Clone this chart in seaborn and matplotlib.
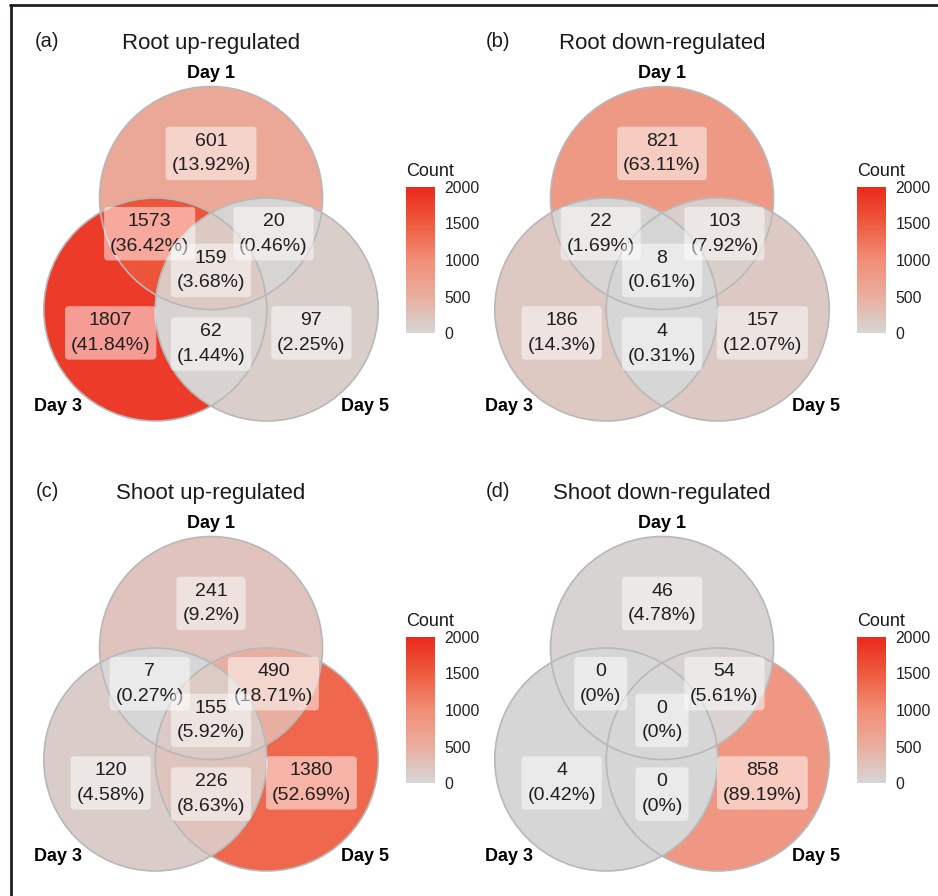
import numpy as np
import seaborn as sns
import matplotlib.pyplot as plt
from matplotlib.patches import Circle, Polygon
from matplotlib.lines import Line2D
from matplotlib.colors import Normalize
from matplotlib.cm import ScalarMappable

sns.set_theme(style='white')
plt.rcParams['font.family'] = ['Liberation Sans', 'DejaVu Sans']

# data
set_names = ['Day 1', 'Day 3', 'Day 5']
regions = [(0,), (0, 1), (0, 2), (0, 1, 2), (1,), (1, 2), (2,)]
panel_tags = ['(a)', '(b)', '(c)', '(d)']
titles = ['Root up-regulated', 'Root down-regulated',
          'Shoot up-regulated', 'Shoot down-regulated']
root_up = [601, 1573, 20, 159, 1807, 62, 97]
root_down = [821, 22, 103, 8, 186, 4, 157]
shoot_up = [241, 7, 490, 155, 120, 226, 1380]
shoot_down = [46, 0, 54, 0, 4, 0, 858]
counts = [root_up, root_down, shoot_up, shoot_down]
cbar_ticks = [0, 500, 1000, 1500, 2000]

# layout (unit = circle radius)
R = 1.0
centers = np.array([[0.0, 0.0], [-0.5, -1.0], [0.5, -1.0]])
label_pos = {(0,): (0, 0.40), (0, 1): (-0.55, -0.32), (0, 2): (0.56, -0.32),
             (0, 1, 2): (0, -0.65), (1,): (-0.90, -1.21), (1, 2): (0, -1.31),
             (2,): (0.90, -1.21)}
name_pos = [(0, 1.12), (-1.37, -1.87), (1.38, -1.87)]

cmap = sns.blend_palette(['#D6D6D6', '#E9AE9E', '#F18E76', '#EE5B3F', '#EA2A1C'],
                         as_cmap=True)
norm = Normalize(0, 2000)


def lens(idx, n=3000):
    # intersection of the circles in idx (convex), as polygon
    t = np.linspace(0, 2 * np.pi, n, endpoint=False)
    pts = []
    for i in idx:
        p = centers[i] + R * np.column_stack([np.cos(t), np.sin(t)])
        ok = np.ones(n, bool)
        for j in idx:
            if j != i:
                ok &= np.hypot(*(p - centers[j]).T) <= R + 1e-9
        pts.append(p[ok])
    pts = np.vstack(pts)
    c = pts.mean(0)
    return pts[np.argsort(np.arctan2(pts[:, 1] - c[1], pts[:, 0] - c[0]))]


fig = plt.figure(figsize=(9.38, 8.96), dpi=100)
W, H = 938, 896

for k in range(4):
    row, col = divmod(k, 2)
    left, top = 10 + col * 451, 5 + row * 450
    ax = fig.add_axes([left / W, 1 - (top + 450) / H, 451 / W, 450 / H])
    ax.set_xlim(-1.803, 2.242)
    ax.set_ylim(-2.305, 1.731)
    ax.axis('off')

    vals = dict(zip(regions, counts[k]))
    total = sum(counts[k])
    # painter order: whole circles, then pair lenses, then the triple
    for reg in sorted(regions, key=len):
        color = cmap(norm(vals[reg]))
        if len(reg) == 1:
            ax.add_patch(Circle(centers[reg[0]], R, fc=color, ec='none'))
        else:
            ax.add_patch(Polygon(lens(reg), closed=True, fc=color, ec=color, lw=0.5))
    for c in centers:
        ax.add_patch(Circle(c, R, fc='none', ec='#B8B8B8', lw=1.2))

    for reg in regions:
        v = vals[reg]
        pct = round(100 * v / total, 2)
        x, y = label_pos[reg]
        ax.text(x, y, f'{v}\n({pct:g}%)', ha='center', va='center',
                fontsize=14, color='#1f1f1f', linespacing=1.6,
                bbox=dict(boxstyle='round,pad=0.3,rounding_size=0.2',
                          fc='white', alpha=0.5, ec='none'))

    for name, (x, y) in zip(set_names, name_pos):
        ax.text(x, y, name, ha='center', va='center', fontsize=13,
                fontweight='bold', color='black')

    ax.text(0, 1.39, titles[k], ha='center', va='center', fontsize=16, color='#1a1a1a')
    ax.text(-1.47, 1.40, panel_tags[k], ha='center', va='center', fontsize=14.5,
            color='#1a1a1a')

    cax = ax.inset_axes([1.749, -1.211, 0.26, 1.31], transform=ax.transData)
    cb = fig.colorbar(ScalarMappable(norm=norm, cmap=cmap), cax=cax, ticks=cbar_ticks)
    cb.outline.set_visible(False)
    cax.tick_params(direction='in', colors='white', left=True, right=True,
                    length=5, width=0.8, labelsize=11.3, labelcolor='#222222', pad=7)
    cax.set_title('Count', loc='left', fontsize=13, pad=8, color='#1a1a1a')

# frame lines (top and left)
fig.add_artist(Line2D([10 / W, 1], [1 - 5.5 / H] * 2, lw=2, color='#231f20'))
fig.add_artist(Line2D([10.5 / W] * 2, [1 - 5 / H, 0], lw=2, color='#231f20'))

fig.savefig('out.png', dpi=100, facecolor='white')
